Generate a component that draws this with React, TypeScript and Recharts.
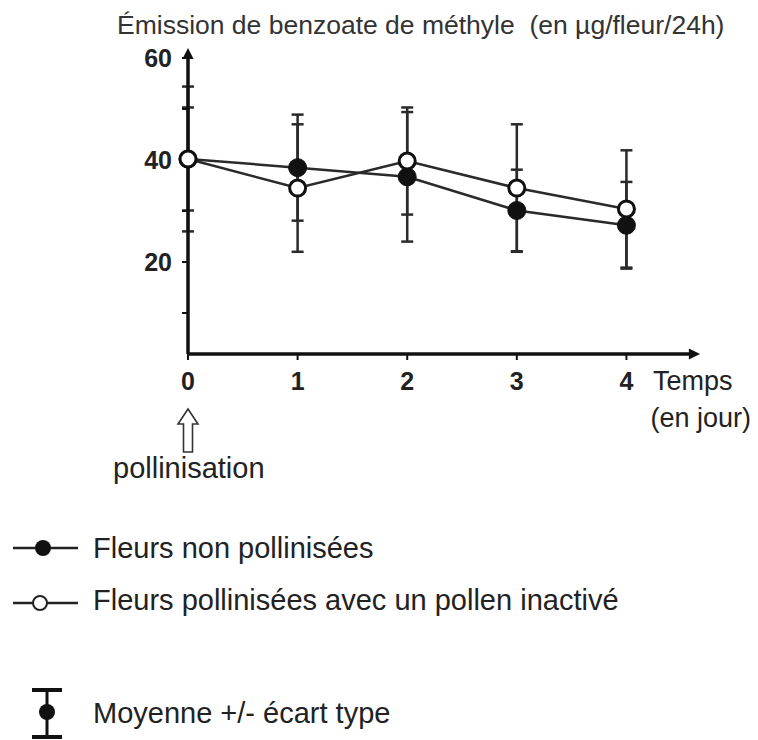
import React from "react"
import { LineChart, Line, XAxis, YAxis, ErrorBar } from "recharts"

// days after pollination
const days = [0, 1, 2, 3, 4]
// mean emission, µg/flower/24h
const nonPollinated = [40.2, 38.5, 36.7, 30.1, 27.2]
const nonPollinatedSd = [10.1, 10.4, 12.7, 8.0, 8.5]
const inactivePollen = [40.2, 34.5, 39.8, 34.5, 30.4]
const inactivePollenSd = [14.2, 12.5, 10.5, 12.5, 11.5]

const xTicks = [0, 1, 2, 3, 4]
const yTicks = [10, 20, 30, 40, 50, 60]
const yLabelled = [20, 40, 60]

const FONT = '"Liberation Sans", Arial, Helvetica, sans-serif'
const INK = "#222"

const data = days.map((d, i) => ({
  day: d,
  nonPollinated: nonPollinated[i],
  nonPollinatedSd: nonPollinatedSd[i],
  inactivePollen: inactivePollen[i],
  inactivePollenSd: inactivePollenSd[i],
}))

export default function App() {
  return (
    <div style={{ position: "absolute", left: 0, top: 0, width: 758, height: 740, background: "#fff", fontFamily: FONT }}>
      <svg width={0} height={0} style={{ position: "absolute" }}>
        <defs>
          <marker id="axisArrow" viewBox="0 0 10 10" refX="1" refY="5" markerWidth="3.6" markerHeight="3.2" orient="auto-start-reverse">
            <path d="M0,0 L10,5 L0,10 z" fill="#111" />
          </marker>
        </defs>
      </svg>

      <div style={{ position: "absolute", left: 0, top: 0 }}>
        <LineChart width={758} height={400} data={data} margin={{ top: 58, right: 68, bottom: 16, left: 128 }}>
          <XAxis
            dataKey="day"
            type="number"
            domain={[0, 4.58]}
            ticks={xTicks}
            height={30}
            tickSize={6}
            tickMargin={12}
            axisLine={{ stroke: "#111", strokeWidth: 3.5, markerEnd: "url(#axisArrow)" }}
            tickLine={{ stroke: "#111", strokeWidth: 2 }}
            tick={{ fill: INK, fontSize: 25, fontWeight: 700, fontFamily: FONT }}
          />
          <YAxis
            type="number"
            domain={[1.96, 60]}
            ticks={yTicks}
            width={60}
            tickSize={6}
            tickMargin={10}
            tickFormatter={(v: number) => (yLabelled.includes(v) ? String(v) : "")}
            axisLine={{ stroke: "#111", strokeWidth: 3.5, markerStart: "url(#axisArrow)" }}
            tickLine={{ stroke: "#111", strokeWidth: 2 }}
            tick={{ fill: INK, fontSize: 25, fontWeight: 700, fontFamily: FONT }}
          />
          <Line
            dataKey="nonPollinated"
            stroke="#2a2a2a"
            strokeWidth={2.5}
            dot={{ r: 9, fill: "#111", stroke: "#111", strokeWidth: 1 }}
            activeDot={false}
            isAnimationActive={false}
          >
            <ErrorBar dataKey="nonPollinatedSd" width={6} stroke="#2a2a2a" strokeWidth={2.5} direction="y" />
          </Line>
          <Line
            dataKey="inactivePollen"
            stroke="#2a2a2a"
            strokeWidth={2.5}
            dot={{ r: 8, fill: "#fff", stroke: "#111", strokeWidth: 3 }}
            activeDot={false}
            isAnimationActive={false}
          >
            <ErrorBar dataKey="inactivePollenSd" width={6} stroke="#2a2a2a" strokeWidth={2.5} direction="y" />
          </Line>
        </LineChart>
      </div>

      <svg width={758} height={740} style={{ position: "absolute", left: 0, top: 0, pointerEvents: "none" }}>
        <g fontFamily={FONT} fill={INK}>
          <text x={117} y={34} fontSize={26.5} fill="#333" style={{ whiteSpace: "pre" }}>
            Émission de benzoate de méthyle  (en µg/fleur/24h)
          </text>
          <text x={653} y={390} fontSize={27}>Temps</text>
          <text x={751} y={427} fontSize={27} textAnchor="end">(en jour)</text>

          <path d="M188,409 L198,424 L192.5,424 L192.5,452 L183.5,452 L183.5,424 L178,424 Z" fill="#fff" stroke="#333" strokeWidth={1.6} />
          <text x={113} y={478} fontSize={29}>pollinisation</text>

          <line x1={13} y1={548} x2={78} y2={548} stroke="#222" strokeWidth={2.5} />
          <circle cx={43} cy={548} r={8} fill="#111" />
          <text x={93} y={558} fontSize={29}>Fleurs non pollinisées</text>

          <line x1={13} y1={603} x2={78} y2={603} stroke="#222" strokeWidth={2.5} />
          <circle cx={40} cy={603} r={7} fill="#fff" stroke="#222" strokeWidth={2} />
          <text x={93} y={610} fontSize={29}>Fleurs pollinisées avec un pollen inactivé</text>

          <line x1={47} y1={690} x2={47} y2={738} stroke="#111" strokeWidth={3} />
          <line x1={32} y1={690} x2={62} y2={690} stroke="#111" strokeWidth={4} />
          <line x1={32} y1={737} x2={62} y2={737} stroke="#111" strokeWidth={4} />
          <circle cx={47} cy={712} r={8} fill="#111" />
          <text x={93} y={723} fontSize={29}>Moyenne +/- écart type</text>
        </g>
      </svg>
    </div>
  )
}
